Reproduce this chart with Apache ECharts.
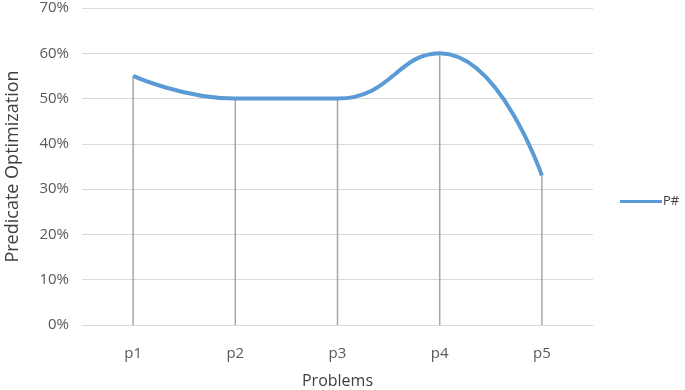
<!DOCTYPE html>
<html><head><meta charset="utf-8">
<script src="https://cdn.jsdelivr.net/npm/echarts@6/dist/echarts.min.js"></script>
<style>html,body{margin:0;padding:0;background:#fff}#c{width:685px;height:390px}</style>
</head><body><div id="c"></div>
<script>
const categories = ['p1','p2','p3','p4','p5'];
const seriesName = 'P#';
const values = [55, 50, 50, 60, 33];
const yTicks = [0,10,20,30,40,50,60,70];

const chart = echarts.init(document.getElementById('c'), null, {renderer:'canvas'});
const font = 'Open Sans';
chart.setOption({
  animation:false,
  grid:{left:82, right:92, top:8, bottom:65, containLabel:false, outerBoundsMode:'none'},
  legend:{
    data:[{name:seriesName, icon:'path://M0,0L40,0L40,3L0,3Z'}],
    left:620, top:195, itemWidth:42, itemHeight:4, itemGap:4, padding:0,
    textStyle:{fontFamily:font, fontSize:13, color:'#404040', padding:[0,0,0,-4]}
  },
  xAxis:{
    type:'category', data:categories, boundaryGap:true,
    name:'Problems', nameLocation:'middle', nameGap:48,
    nameTextStyle:{fontFamily:font, fontSize:16, color:'#404040'},
    axisLine:{lineStyle:{color:'#d9d9d9', width:1}},
    axisTick:{show:false},
    axisLabel:{fontFamily:font, fontSize:15, color:'#595959', margin:21}
  },
  yAxis:{
    type:'value', min:yTicks[0], max:yTicks[yTicks.length-1], interval:10,
    name:'Predicate Optimization', nameLocation:'middle', nameGap:60,
    nameTextStyle:{fontFamily:font, fontSize:18, color:'#404040'},
    axisLine:{show:false}, axisTick:{show:false},
    axisLabel:{fontFamily:font, fontSize:15, color:'#595959', margin:13, formatter:v=>v+'%'},
    splitLine:{lineStyle:{color:'#d9d9d9', width:1}}
  },
  series:[
    {
      name:'drop', type:'bar', data:values, barWidth:1.5,
      itemStyle:{color:'#a6a6a6'}, silent:true, z:1
    },
    {
      name:seriesName, type:'line', data:values, smooth:0.5,
      symbol:'none', lineStyle:{color:'#5b9bd5', width:4},
      itemStyle:{color:'#5b9bd5'}, z:3
    }
  ]
});
</script></body></html>
